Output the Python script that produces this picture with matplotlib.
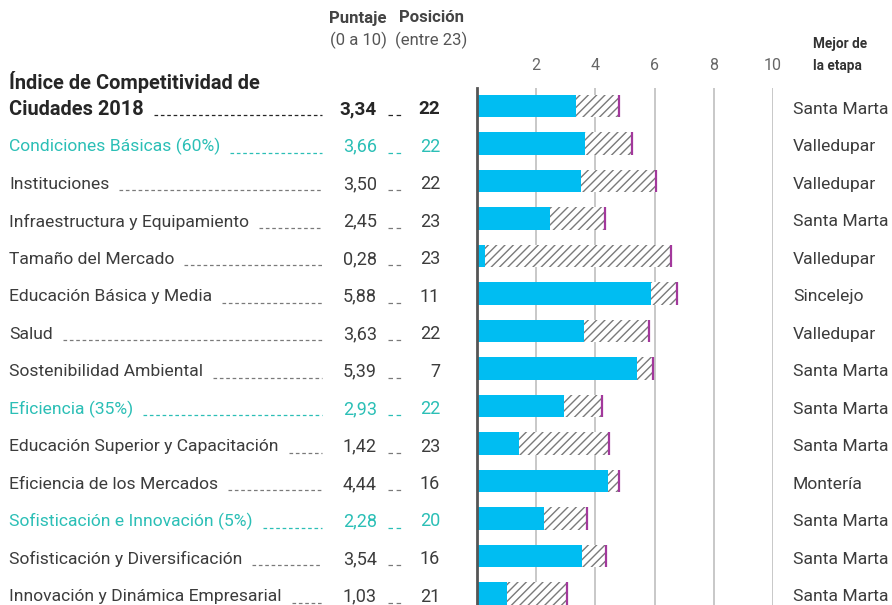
import matplotlib
matplotlib.use("Agg")
import matplotlib.pyplot as plt
from matplotlib.transforms import blended_transform_factory
from matplotlib.lines import Line2D

plt.rcParams["font.family"] = ["Roboto", "DejaVu Sans"]
plt.rcParams["hatch.linewidth"] = 1.0

labels = [
    "Ciudades 2018",
    "Condiciones Básicas (60%)",
    "Instituciones",
    "Infraestructura y Equipamiento",
    "Tamaño del Mercado",
    "Educación Básica y Media",
    "Salud",
    "Sostenibilidad Ambiental",
    "Eficiencia (35%)",
    "Educación Superior y Capacitación",
    "Eficiencia de los Mercados",
    "Sofisticación e Innovación (5%)",
    "Sofisticación y Diversificación",
    "Innovación y Dinámica Empresarial",
]
scores = [3.34, 3.66, 3.50, 2.45, 0.28, 5.88, 3.63, 5.39, 2.93, 1.42, 4.44, 2.28, 3.54, 1.03]
ranks = [22, 22, 22, 23, 23, 11, 22, 7, 22, 23, 16, 20, 16, 21]
best_scores = [4.80, 5.24, 6.05, 4.32, 6.55, 6.76, 5.81, 5.95, 4.22, 4.46, 4.80, 3.72, 4.36, 3.04]
best_cities = [
    "Santa Marta", "Valledupar", "Valledupar", "Santa Marta", "Valledupar",
    "Sincelejo", "Valledupar", "Santa Marta", "Santa Marta", "Santa Marta",
    "Montería", "Santa Marta", "Santa Marta", "Santa Marta",
]
pillars = {1, 8, 11}
xticks = [2, 4, 6, 8, 10]

BLUE = "#00bdf2"
TEAL = "#2bbfb6"
DARK = "#262626"
TEXT = "#3c3c3c"
GREY = "#7a7a7a"
MAGENTA = "#a3389c"

W, H = 892, 605
fig = plt.figure(figsize=(W / 100, H / 100), dpi=100)

# bar panel: x 0..10 spans px 477..773, rows every 37.5 px starting at 106
row0, step = 106, 37.5
top_px, bot_px = 88, 605
ax = fig.add_axes([477 / W, 0, 296 / W, 1 - top_px / H])
ax.set_xlim(0, 10)
ax.set_ylim((bot_px - row0) / step, (top_px - row0) / step)

n = len(labels)
ys = list(range(n))
for x in xticks:
    ax.axvline(x, color="#c4c4c4", lw=1.3, zorder=0)
ax.barh(ys, scores, height=0.59, color=BLUE, zorder=2)
gaps = [b - s for s, b in zip(scores, best_scores)]
ax.barh(ys, gaps, left=scores, height=0.59, color="white", edgecolor="#7a7a7a",
        hatch="////", linewidth=0, zorder=2)
ax.vlines(best_scores, [y - 0.295 for y in ys], [y + 0.295 for y in ys],
          color=MAGENTA, lw=1.6, zorder=3)

for s in ["top", "right", "bottom"]:
    ax.spines[s].set_visible(False)
ax.spines["left"].set_color("#555555")
ax.spines["left"].set_linewidth(2)
ax.set_yticks([])
ax.xaxis.tick_top()
ax.set_xticks(xticks)
ax.set_xticklabels([str(x) for x in xticks])
ax.tick_params(axis="x", length=0, pad=11, labelsize=11.5, labelcolor="#666666")

tr = blended_transform_factory(fig.transFigure, ax.transData)
px = lambda v: v / W

fs = 12.6
dy = 0.08  # text sits a touch below the bar centre
txts = []
for i, lab in enumerate(labels):
    if i == 0:
        color, weight, size = DARK, "bold", 14.4
    elif i in pillars:
        color, weight, size = TEAL, "normal", fs
    else:
        color, weight, size = TEXT, "normal", fs
    t = fig.text(px(9), i + dy, lab, transform=tr, ha="left", va="center",
                 color=color, fontsize=size, fontweight=weight)
    txts.append((t, i))
    vw = "bold" if i == 0 else "normal"
    vs = 13.6 if i == 0 else 13
    fig.text(px(377), i + dy, f"{scores[i]:.2f}".replace(".", ","), transform=tr,
             ha="right", va="center", color=color, fontsize=vs, fontweight=vw)
    fig.text(px(440), i + dy, str(ranks[i]), transform=tr, ha="right", va="center",
             color=color, fontsize=vs, fontweight=vw)
    fig.text(px(793), i + dy, best_cities[i], transform=tr, ha="left", va="center",
             color=TEXT, fontsize=fs)

fig.text(px(9), -0.65, "Índice de Competitividad de", transform=tr, ha="left",
         va="center", color=DARK, fontsize=14.4, fontweight="bold")

# headers
fig.text(px(358), 1 - 18 / H, "Puntaje", ha="center", va="center",
         color="#444444", fontsize=12, fontweight="bold")
fig.text(px(358), 1 - 40 / H, "(0 a 10)", ha="center", va="center",
         color="#555555", fontsize=12)
fig.text(px(431), 1 - 18 / H, "Posición", ha="center", va="center",
         color="#444444", fontsize=12, fontweight="bold")
fig.text(px(431), 1 - 40 / H, "(entre 23)", ha="center", va="center",
         color="#555555", fontsize=12)
fig.text(px(813), 1 - 44 / H, "Mejor de", ha="left", va="center",
         color="#333333", fontsize=9.8, fontweight="bold")
fig.text(px(813), 1 - 66 / H, "la etapa", ha="left", va="center",
         color="#333333", fontsize=9.8, fontweight="bold")

# dashed leaders after each label and between score and rank
fig.canvas.draw()
renderer = fig.canvas.get_renderer()
for t, i in txts:
    x1 = t.get_window_extent(renderer).x1
    lc = DARK if i == 0 else (TEAL if i in pillars else GREY)
    y_off = i + 0.24
    fig.add_artist(Line2D([px(x1 + 10), px(322)], [y_off, y_off], transform=tr,
                          color=lc, lw=0.9, linestyle=(0, (2.9, 2.2))))
    fig.add_artist(Line2D([px(388), px(404)], [y_off, y_off], transform=tr,
                          color=lc, lw=0.9, linestyle=(0, (3.6, 2.9))))

fig.savefig("out.png", dpi=100)
